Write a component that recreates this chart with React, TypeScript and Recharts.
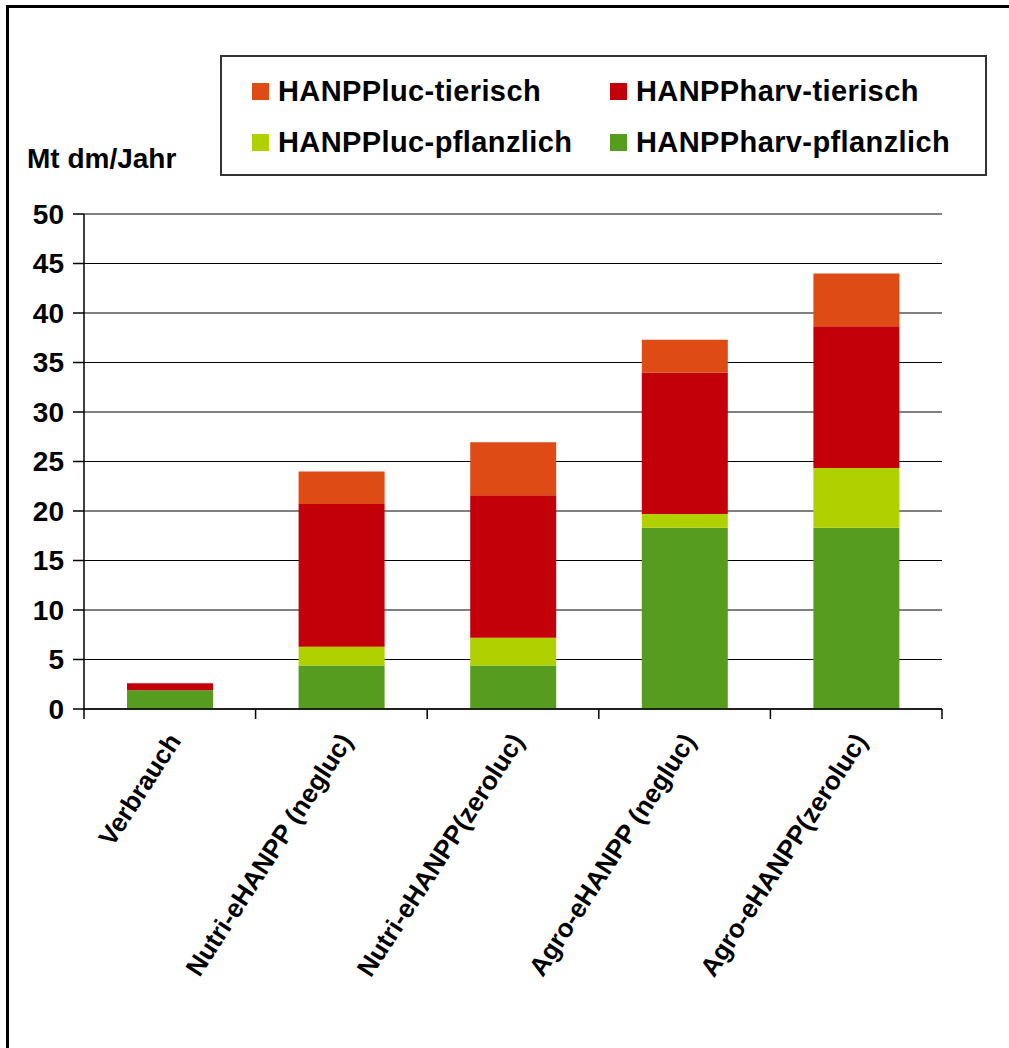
import React from 'react';
import { BarChart, Bar, XAxis, YAxis, CartesianGrid, Legend } from 'recharts';

const categories = [
  'Verbrauch',
  'Nutri-eHANPP (negluc)',
  'Nutri-eHANPP(zeroluc)',
  'Agro-eHANPP (negluc)',
  'Agro-eHANPP(zeroluc)',
];
const harvPflanzlich = [1.9, 4.4, 4.4, 18.3, 18.3];
const lucPflanzlich = [0, 1.9, 2.8, 1.4, 6.05];
const harvTierisch = [0.7, 14.4, 14.4, 14.3, 14.3];
const lucTierisch = [0, 3.3, 5.35, 3.3, 5.35];
const yTicks = [0, 5, 10, 15, 20, 25, 30, 35, 40, 45, 50];

const seriesNames = {
  harvPfl: 'HANPPharv-pflanzlich',
  lucPfl: 'HANPPluc-pflanzlich',
  harvTier: 'HANPPharv-tierisch',
  lucTier: 'HANPPluc-tierisch',
};
const colors = {
  harvPfl: '#569D1F',
  lucPfl: '#B0D000',
  harvTier: '#C3000A',
  lucTier: '#DE4B15',
};

const data = categories.map((name, i) => ({
  name,
  harvPfl: harvPflanzlich[i],
  lucPfl: lucPflanzlich[i],
  harvTier: harvTierisch[i],
  lucTier: lucTierisch[i],
}));

const FONT = '"Liberation Sans", Arial, Helvetica, sans-serif';

const XTick = (props: any) => {
  const { x, y, payload, index, visibleTicksCount } = props;
  const half = payload && typeof payload.offset === 'number' && payload.offset > 0 ? payload.offset : 85.8;
  const ax = x + 12;
  const ay = y + 32;
  const last = index === (visibleTicksCount ?? categories.length) - 1;
  return (
    <g>
      <line x1={x - half} y1={y} x2={x - half} y2={y + 10} stroke="#000" strokeWidth={1.5} />
      {last && <line x1={x + half} y1={y} x2={x + half} y2={y + 10} stroke="#000" strokeWidth={1.5} />}
      <text
        x={ax}
        y={ay}
        textAnchor="end"
        transform={`rotate(-57, ${ax}, ${ay})`}
        fontFamily={FONT}
        fontWeight="bold"
        fontSize={26}
        fill="#000"
      >
        {payload.value}
      </text>
    </g>
  );
};

const legendRows = [
  [
    { key: 'lucTier' as const },
    { key: 'harvTier' as const },
  ],
  [
    { key: 'lucPfl' as const },
    { key: 'harvPfl' as const },
  ],
];

const renderLegend = () => (
  <div
    style={{
      position: 'relative',
      width: 763,
      height: 117,
      border: '2px solid #333',
      background: '#fff',
      fontFamily: FONT,
      fontWeight: 'bold',
      fontSize: 29,
      color: '#000',
    }}
  >
    {legendRows.map((row, r) =>
      row.map((item, c) => (
        <div
          key={item.key}
          style={{
            position: 'absolute',
            left: c === 0 ? 30 : 388,
            top: r === 0 ? 17 : 68,
            height: 34,
            display: 'flex',
            alignItems: 'center',
            whiteSpace: 'nowrap',
          }}
        >
          <span
            style={{
              display: 'inline-block',
              width: 17,
              height: 17,
              background: colors[item.key],
              marginRight: 9,
            }}
          />
          <span style={{ letterSpacing: 0.4 }}>{seriesNames[item.key]}</span>
        </div>
      ))
    )}
  </div>
);

const YLabel = (props: any) => {
  const vb = props.viewBox || { x: 0, y: 214 };
  return (
    <text x={27} y={vb.y - 46} fontFamily={FONT} fontWeight="bold" fontSize={28} fill="#000">
      Mt dm/Jahr
    </text>
  );
};

export default function App() {
  return (
    <div
      style={{
        position: 'absolute',
        left: 0,
        top: 0,
        width: 1009,
        height: 1048,
        overflow: 'hidden',
        background: '#fff',
      }}
    >
      <div
        style={{
          position: 'absolute',
          left: 6,
          top: 5,
          width: 1100,
          height: 1100,
          border: '3px solid #000',
          boxSizing: 'border-box',
        }}
      />
      <div style={{ position: 'absolute', left: 0, top: 0 }}>
        <BarChart
          width={1009}
          height={1048}
          data={data}
          margin={{ top: 214, right: 67, left: 0, bottom: 39 }}
          barSize={86}
        >
          <CartesianGrid vertical={false} stroke="#000" strokeWidth={1} />
          <XAxis
            dataKey="name"
            height={300}
            interval={0}
            tickLine={false}
            tickSize={0}
            tickMargin={0}
            axisLine={{ stroke: '#000', strokeWidth: 1.5 }}
            tick={<XTick />}
          />
          <YAxis
            width={84}
            domain={[0, 50]}
            ticks={yTicks}
            interval={0}
            tickSize={11}
            tickMargin={9}
            axisLine={{ stroke: '#000', strokeWidth: 1.5 }}
            tickLine={{ stroke: '#000', strokeWidth: 1.5 }}
            tick={{ fontFamily: FONT, fontWeight: 'bold', fontSize: 28, fill: '#000' }}
            label={<YLabel />}
          />
          <Legend
            layout="horizontal"
            verticalAlign="middle"
            align="center"
            content={renderLegend}
            wrapperStyle={{ position: 'absolute', left: 220, top: 55, width: 767, height: 121 }}
          />
          <Bar dataKey="harvPfl" name={seriesNames.harvPfl} stackId="a" fill={colors.harvPfl} isAnimationActive={false} />
          <Bar dataKey="lucPfl" name={seriesNames.lucPfl} stackId="a" fill={colors.lucPfl} isAnimationActive={false} />
          <Bar dataKey="harvTier" name={seriesNames.harvTier} stackId="a" fill={colors.harvTier} isAnimationActive={false} />
          <Bar dataKey="lucTier" name={seriesNames.lucTier} stackId="a" fill={colors.lucTier} isAnimationActive={false} />
        </BarChart>
      </div>
    </div>
  );
}
